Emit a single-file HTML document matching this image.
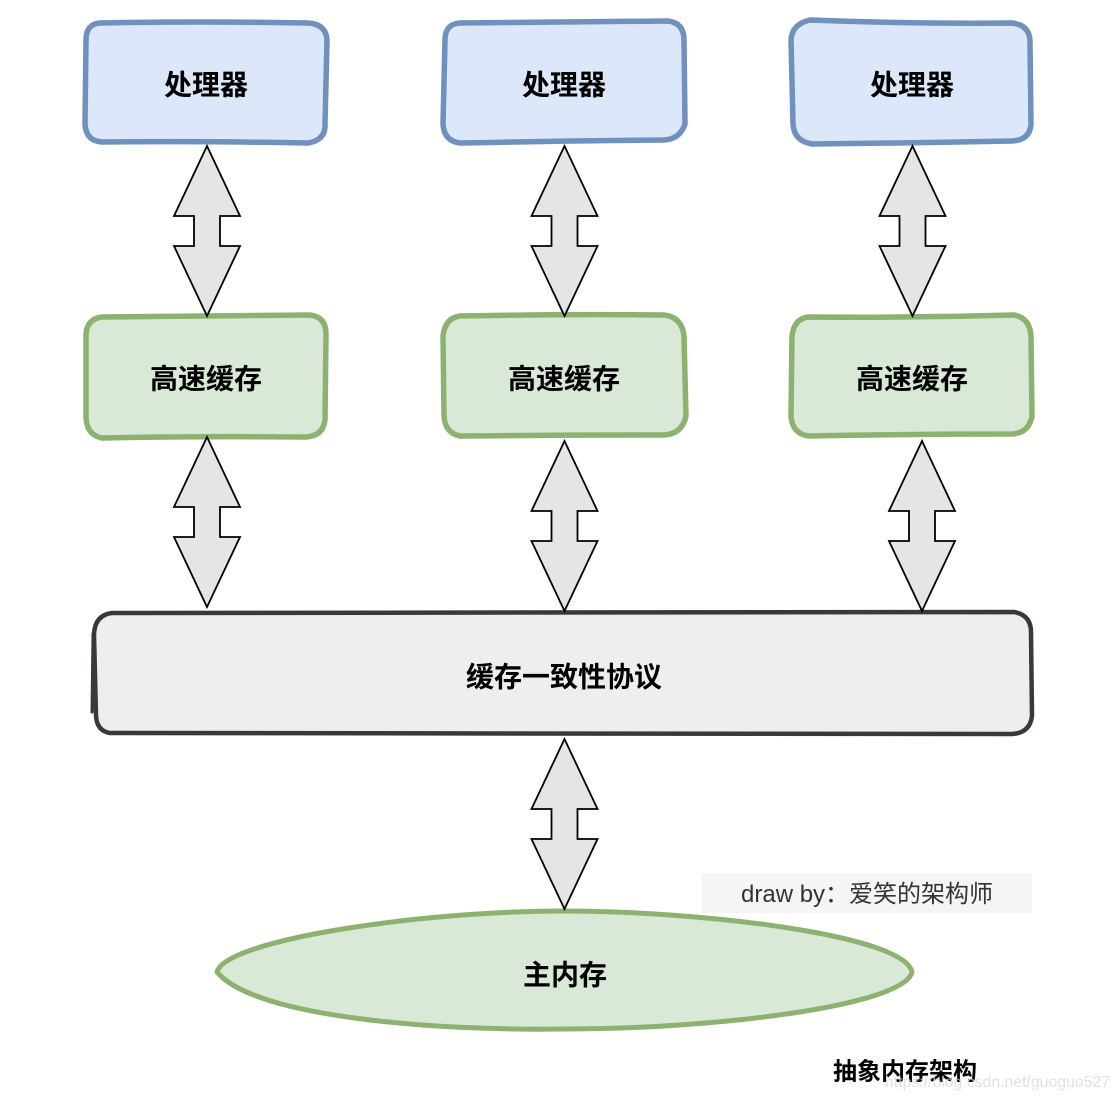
<!DOCTYPE html>
<html><head><meta charset="utf-8"><style>
html,body{margin:0;padding:0;background:#fff}
svg{display:block}
.t{font-family:"Liberation Sans","Noto Sans CJK SC",sans-serif;font-weight:700;font-size:28px;fill:#000;text-anchor:middle;dominant-baseline:central}
</style></head><body>
<svg width="1120" height="1100" viewBox="0 0 1120 1100" xmlns="http://www.w3.org/2000/svg">
<g fill="#dce8fa" stroke="#7090bd" stroke-width="5.500" stroke-linecap="round" stroke-linejoin="round">
<path d="M100 23 Q200 21 308 23 Q326 24 327 40 L325 124 Q326 140 308 143 Q200 141 102 142 Q86 141 85 124 L86 40 Q86 24 100 23Z"/>
<path d="M460 23 Q560 22 668 21 Q684 23 684 40 L685 124 Q680 139 664 140 Q560 141 460 143 Q444 141 443 124 L445 40 Q445 24 460 23Z"/>
<path d="M810 20 Q910 24 1012 23 Q1030 25 1030 42 L1031 124 Q1030 140 1012 141 Q910 143 812 144 Q794 141 793 124 L791 40 Q792 24 810 20Z"/>
</g>
<g fill="#dae8d8" stroke="#8db270" stroke-width="5.500" stroke-linecap="round" stroke-linejoin="round">
<path d="M102 317 Q200 316 310 315 Q326 317 326 334 L325 420 Q323 436 306 437 Q200 436 102 438 Q87 435 86 418 L86 334 Q87 319 102 317Z"/>
<path d="M460 316 Q560 314 664 315 Q682 317 684 336 L686 416 Q682 434 664 435 Q560 435 460 436 Q445 433 444 416 L443 336 Q445 318 460 316Z"/>
<path d="M808 317 Q910 318 1014 315 Q1030 318 1031 336 L1032 416 Q1029 433 1012 434 Q910 434 808 436 Q792 433 791 416 L792 336 Q794 319 808 317Z"/>
</g>
<path d="M112 613 Q560 613 1014 612 Q1031 615 1031 632 L1032 716 Q1030 733 1012 734 Q560 733 110 733 Q97 731 96 716 L94 634 Q95 615 112 613Z" fill="#eeeeee" stroke="#36393d" stroke-width="4.500" stroke-linecap="round" stroke-linejoin="round"/>
<path d="M92 712 L93 634" fill="none" stroke="#36393d" stroke-width="3" stroke-linecap="round"/>
<path d="M217 972 C225 940 420 911 564 911 C700 911 905 935 912 972 C905 1005 720 1029 564 1029 C440 1031 255 1018 217 972Z" fill="#dae8d8" stroke="#8db270" stroke-width="5" stroke-linejoin="round"/>
<g fill="#e5e5e5" stroke="#000" stroke-width="1.800" stroke-linejoin="miter">
<path d="M207 146 L240 216 L220 216 L220 246 L240 246 L207 316 L174 246 L194 246 L194 216 L174 216Z"/>
<path d="M564.500 146 L597.500 216 L577.500 216 L577.500 246 L597.500 246 L564.500 316 L531.500 246 L551.500 246 L551.500 216 L531.500 216Z"/>
<path d="M912.500 146 L945.500 216 L925.500 216 L925.500 246 L945.500 246 L912.500 316 L879.500 246 L899.500 246 L899.500 216 L879.500 216Z"/>
<path d="M207 437 L240 507 L220 507 L220 537 L240 537 L207 607 L174 537 L194 537 L194 507 L174 507Z"/>
<path d="M564.500 441 L597.500 511 L577.500 511 L577.500 541 L597.500 541 L564.500 611 L531.500 541 L551.500 541 L551.500 511 L531.500 511Z"/>
<path d="M922 441 L955 511 L935 511 L935 541 L955 541 L922 611 L889 541 L909 541 L909 511 L889 511Z"/>
<path d="M564.500 739 L597.500 809 L577.500 809 L577.500 839 L597.500 839 L564.500 909 L531.500 839 L551.500 839 L551.500 809 L531.500 809Z"/>
</g>
<text class="t" x="206" y="85">处理器</text>
<text class="t" x="564" y="85">处理器</text>
<text class="t" x="912" y="85">处理器</text>
<text class="t" x="206" y="379">高速缓存</text>
<text class="t" x="564" y="379">高速缓存</text>
<text class="t" x="912" y="379">高速缓存</text>
<text class="t" x="564" y="677">缓存一致性协议</text>
<text class="t" x="565" y="975">主内存</text>
<rect x="702" y="873" width="330" height="40" fill="#f5f5f5"/>
<text x="741" y="902" font-family="'Liberation Sans','Noto Sans CJK SC',sans-serif" font-size="24" fill="#333" textLength="252" lengthAdjust="spacing">draw by：爱笑的架构师</text>
<text class="t" x="905" y="1072" style="font-size:24px">抽象内存架构</text>
<text x="885" y="1087" font-family="'Liberation Sans',sans-serif" font-size="16" fill="#d8d8d8" fill-opacity="0.8" textLength="225" lengthAdjust="spacingAndGlyphs">https://blog.csdn.net/guoguo527</text>
</svg>
</body></html>
